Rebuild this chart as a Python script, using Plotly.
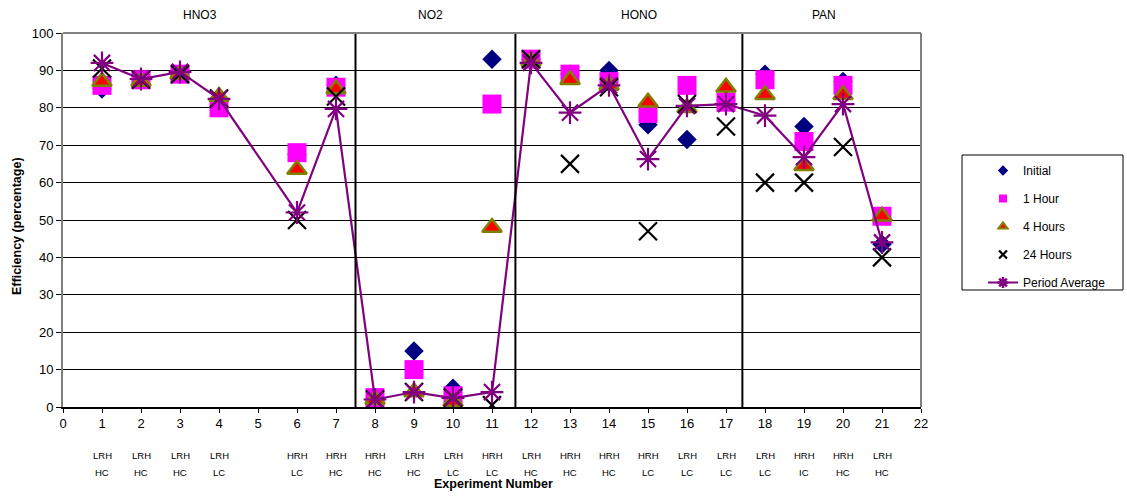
import plotly.graph_objects as go

# ---------------- data ----------------
experiments = [1, 2, 3, 4, 6, 7, 8, 9, 10, 11, 12, 13, 14, 15, 16, 17, 18, 19, 20, 21]
rh_labels = ["LRH", "LRH", "LRH", "LRH", "HRH", "HRH", "HRH", "LRH", "LRH", "HRH",
             "LRH", "HRH", "HRH", "HRH", "LRH", "LRH", "LRH", "HRH", "HRH", "LRH"]
conc_labels = ["HC", "HC", "HC", "LC", "LC", "HC", "HC", "HC", "LC", "LC",
               "HC", "HC", "HC", "LC", "LC", "LC", "LC", "IC", "HC", "HC"]

initial = [85, 87.5, 89, 80, 67.5, 86, 2, 15, 5, 93, 93, 89, 90, 75.5, 71.5, 82, 89, 75, 87, 43.5]
one_hour = [86, 87.5, 89, 80, 68, 85.5, 2.5, 10, 3, 81, 93, 89, 87, 78.5, 86, 81.5, 87.5, 71, 86, 51]
four_hours = [87, 87, 89, 83, 63.5, 85, 2, 4, 1.5, 48, 92.5, 87.5, 86, 81.5, 80, 85.5, 83.5, 64.5, 83.5, 51]
twenty_four_hours = [90.5, 87.5, 89, 82.5, 50, 83, 2, 4, 2.5, 0.5, 93, 65, 85.5, 47, 81, 75, 60, 60, 69.5, 40]
period_average = [92, 87.7, 89.6, 82.4, 52, 79.7, 2, 4, 2.4, 4, 92, 78.7, 86, 66.3, 80.5, 81, 77.9, 66.8, 81, 44]

x_ticks = list(range(0, 23))
y_ticks = list(range(0, 101, 10))

groups = ["HNO3", "NO2", "HONO", "PAN"]
group_centers = [3.5, 9.42, 14.78, 19.5]
separators = [7.5, 11.6, 17.42]

FONT = "Liberation Sans, Arial, sans-serif"

fig = go.Figure()

# plotted series (legend drawn with small dummy markers below)
fig.add_trace(go.Scatter(x=experiments, y=initial, mode="markers", name="Initial", showlegend=False,
                         marker=dict(symbol="diamond", size=15, color="#000080")))
fig.add_trace(go.Scatter(x=experiments, y=one_hour, mode="markers", name="1 Hour", showlegend=False,
                         marker=dict(symbol="square", size=19, color="#FF00FF")))
fig.add_trace(go.Scatter(x=experiments, y=four_hours, mode="markers", name="4 Hours", showlegend=False,
                         marker=dict(symbol="triangle-up", size=17, color="#FF0000",
                                     line=dict(color="#808000", width=2.5))))
fig.add_trace(go.Scatter(x=experiments, y=twenty_four_hours, mode="markers", name="24 Hours", showlegend=False,
                         marker=dict(symbol="x-thin-open", size=18, color="#000000",
                                     line=dict(color="#000000", width=2.2))))
fig.add_trace(go.Scatter(x=experiments, y=period_average, mode="lines+markers", name="Period Average",
                         showlegend=False,
                         line=dict(color="#800080", width=2.2),
                         marker=dict(symbol="asterisk-open", size=19, color="#800080",
                                     line=dict(color="#800080", width=2.2))))

# legend entries
leg = [
    ("Initial", "markers", dict(symbol="diamond", size=8, color="#000080"), None),
    ("1 Hour", "markers", dict(symbol="square", size=8, color="#FF00FF"), None),
    ("4 Hours", "markers", dict(symbol="triangle-up", size=8, color="#FF0000",
                                line=dict(color="#808000", width=2)), None),
    ("24 Hours", "markers", dict(symbol="x-thin-open", size=8, color="#000000",
                                 line=dict(color="#000000", width=2.2)), None),
    ("Period Average", "lines+markers", dict(symbol="asterisk-open", size=9, color="#800080",
                                             line=dict(color="#800080", width=2.5)),
     dict(color="#800080", width=2)),
]
for i, (nm, md, mk, ln) in enumerate(leg):
    kw = dict(x=[None], y=[None], mode=md, name=nm, marker=mk, legendgroup=f"g{i}", showlegend=True)
    if ln:
        kw["line"] = ln
    fig.add_trace(go.Scatter(**kw))

shapes = []
for s in separators:
    shapes.append(dict(type="line", xref="x", yref="paper", x0=s, x1=s, y0=0, y1=1,
                       line=dict(color="#000000", width=2)))
# plot border (top/right)
shapes.append(dict(type="line", xref="paper", yref="paper", x0=0, x1=1, y0=1, y1=1,
                   line=dict(color="#808080", width=2)))
shapes.append(dict(type="line", xref="paper", yref="paper", x0=1, x1=1, y0=0, y1=1,
                   line=dict(color="#808080", width=2)))
# legend box
W, H = 1127, 496
L, R, T, B = 63, 206, 33, 89
pw, ph = W - L - R, H - T - B
def px_x(p):
    return (p - L) / pw
def px_y(p):
    return (H - B - p) / ph
shapes.append(dict(type="rect", xref="paper", yref="paper",
                   x0=px_x(962), x1=px_x(1123), y0=px_y(290), y1=px_y(155),
                   line=dict(color="#000000", width=1)))

annotations = []
for g, c in zip(groups, group_centers):
    annotations.append(dict(x=c, xref="x", y=px_y(15), yref="paper", text=g, showarrow=False,
                            font=dict(family=FONT, size=12, color="#000000"),
                            xanchor="center", yanchor="middle"))
for e, rh, cc in zip(experiments, rh_labels, conc_labels):
    annotations.append(dict(x=e, xref="x", y=px_y(455), yref="paper", text=rh, showarrow=False,
                            font=dict(family=FONT, size=9.5, color="#000000"),
                            xanchor="center", yanchor="middle"))
    annotations.append(dict(x=e, xref="x", y=px_y(472), yref="paper", text=cc, showarrow=False,
                            font=dict(family=FONT, size=9.5, color="#000000"),
                            xanchor="center", yanchor="middle"))
annotations.append(dict(x=px_x(493), xref="paper", y=px_y(484), yref="paper",
                        text="<b>Experiment Number</b>", showarrow=False,
                        font=dict(family=FONT, size=12.5, color="#000000"),
                        xanchor="center", yanchor="middle"))
annotations.append(dict(x=px_x(17), xref="paper", y=px_y(226), yref="paper",
                        text="<b>Efficiency (percentage)</b>", showarrow=False, textangle=-90,
                        font=dict(family=FONT, size=12.5, color="#000000"),
                        xanchor="center", yanchor="middle"))

fig.update_layout(
    width=W, height=H,
    margin=dict(l=L, r=R, t=T, b=B, pad=0),
    paper_bgcolor="white", plot_bgcolor="white",
    font=dict(family=FONT, size=12, color="#000000"),
    shapes=shapes, annotations=annotations,
    legend=dict(x=px_x(983), y=px_y(156), xanchor="left", yanchor="top",
                bgcolor="rgba(0,0,0,0)", borderwidth=0,
                font=dict(family=FONT, size=12, color="#000000"),
                tracegroupgap=9, itemwidth=30),
    xaxis=dict(range=[0, 22], tickmode="array", tickvals=x_ticks,
               ticktext=[str(v) for v in x_ticks],
               showgrid=False, zeroline=False, showline=True, linecolor="#000000", linewidth=1.5,
               ticks="outside", ticklen=4, tickcolor="#000000", tickwidth=1,
               tickfont=dict(family=FONT, size=13, color="#000000")),
    yaxis=dict(range=[0, 100], tickmode="array", tickvals=y_ticks,
               showgrid=True, gridcolor="#000000", gridwidth=1, zeroline=False,
               showline=True, linecolor="#808080", linewidth=2,
               ticks="outside", ticklen=5, tickcolor="#000000", tickwidth=1,
               tickfont=dict(family=FONT, size=13, color="#000000")),
)

fig.write_html("out.html", config={"displayModeBar": False},
               post_script="document.body.style.margin='0';document.body.style.overflow='hidden';")
